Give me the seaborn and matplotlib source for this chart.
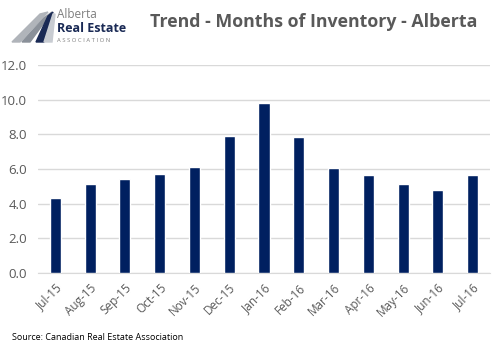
import matplotlib
matplotlib.use("Agg")
import matplotlib.pyplot as plt
import seaborn as sns
import pandas as pd
import numpy as np
from matplotlib.patches import Polygon

months = ["Jul-15", "Aug-15", "Sep-15", "Oct-15", "Nov-15", "Dec-15", "Jan-16",
          "Feb-16", "Mar-16", "Apr-16", "May-16", "Jun-16", "Jul-16"]
values = [4.3, 5.15, 5.4, 5.7, 6.1, 7.9, 9.8, 7.85, 6.05, 5.65, 5.15, 4.8, 5.65]
yticks = [0, 2, 4, 6, 8, 10, 12]

df = pd.DataFrame({"month": months, "value": values})

sns.set_style("white")
plt.rcParams["font.family"] = ["Open Sans", "DejaVu Sans"]

W, H = 499, 349
fig = plt.figure(figsize=(W / 100, H / 100), dpi=100)
ax = fig.add_axes([38 / W, 1 - 273 / H, (490 - 38) / W, (273 - 65) / H])

sns.barplot(data=df, x="month", y="value", color="#002060", width=0.32,
            saturation=1, ax=ax, zorder=3)
ax.set_ylim(0, 12)
ax.set_xlim(-0.5, len(months) - 0.5)
ax.set_yticks(yticks)
ax.set_yticklabels([f"{v:.1f}" for v in yticks], color="#595959", fontsize=9.5)
ax.yaxis.grid(True, color="#d9d9d9", linewidth=1, zorder=0)
ax.set_xlabel("")
ax.set_ylabel("")
ax.tick_params(axis="y", length=0, pad=8)
ax.set_xticks(range(len(months)))
ax.set_xticklabels(months, rotation=45, ha="right", rotation_mode="anchor",
                   color="#595959", fontsize=8.5)
ax.tick_params(axis="x", length=0, pad=6)
ax.set_xticks(np.arange(-0.5, len(months) + 0.5, 1), minor=True)
ax.tick_params(axis="x", which="minor", length=4, color="#d9d9d9", width=1)
for s in ["top", "right", "left"]:
    ax.spines[s].set_visible(False)
ax.spines["bottom"].set_color("#d9d9d9")

# Title
fig.text(314 / W, 1 - 22 / H, "Trend - Months of Inventory - Alberta",
         ha="center", va="center", fontsize=12.8, fontweight="bold",
         color="#595959")

# Source
fig.text(12 / W, 1 - 337 / H, "Source: Canadian Real Estate Association",
         ha="left", va="center", fontsize=6.5, color="#000000")

# Logo
lax = fig.add_axes([0, 1 - 46 / H, 130 / W, 46 / H])
lax.set_xlim(0, 130)
lax.set_ylim(46, 0)
lax.axis("off")
lax.add_patch(Polygon([[12, 42], [40, 14], [48, 12], [20, 42]], color="#b0b4ba"))
lax.add_patch(Polygon([[22, 42], [44, 18], [52, 12], [30, 42]], color="#8a9099"))
lax.add_patch(Polygon([[36, 42], [48, 16], [53, 12], [44, 42]], color="#1a2a55"))
lax.add_patch(Polygon([[44, 42], [53, 14], [55, 14], [52, 42]], color="#c8ccd2"))
lax.text(57, 15, "Alberta", fontsize=8.5, color="#7f7f7f", va="center", ha="left")
lax.text(57, 29, "Real Estate", fontsize=9, color="#1a2a55", va="center",
         ha="left", fontweight="bold")
lax.text(57, 40, "A S S O C I A T I O N", fontsize=4.2, color="#7f7f7f",
         va="center", ha="left")

fig.savefig("out.png", dpi=100, facecolor="white")
